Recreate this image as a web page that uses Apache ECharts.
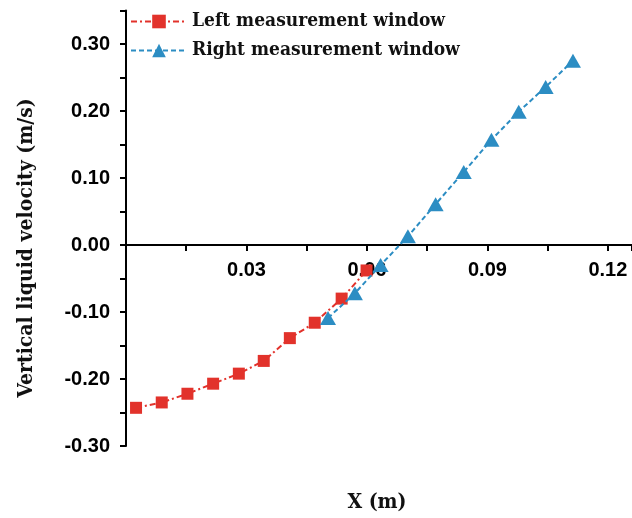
<!DOCTYPE html>
<html>
<head>
<meta charset="utf-8">
<script src="https://cdn.jsdelivr.net/npm/echarts@6/dist/echarts.min.js"></script>
<style>
html,body{margin:0;padding:0;background:#fff;}
#chart{width:632px;height:518px;}
</style>
</head>
<body>
<div id="chart"></div>
<script>
// Data
const seriesNames = ['Left measurement window', 'Right measurement window'];
const leftX = [0.0025, 0.0089, 0.0153, 0.0217, 0.0281, 0.0343, 0.0408, 0.0470, 0.0537, 0.0599];
const leftY = [-0.243, -0.235, -0.222, -0.207, -0.192, -0.173, -0.139, -0.116, -0.080, -0.038];
const rightX = [0.0503, 0.0570, 0.0634, 0.0702, 0.0771, 0.0841, 0.0910, 0.0978, 0.1045, 0.1113];
const rightY = [-0.109, -0.072, -0.030, 0.013, 0.061, 0.109, 0.157, 0.199, 0.236, 0.275];
const xTickLabels = ['0.03', '0.06', '0.09', '0.12'];
const yTickLabels = ['-0.30', '-0.20', '-0.10', '0.00', '0.10', '0.20', '0.30'];
const xTitle = 'X (m)';
const yTitle = 'Vertical liquid velocity (m/s)';

const RED = '#E2322B';
const BLUE = '#2C8DC3';
const serifFont = '"DejaVu Serif Condensed", "DejaVu Serif", serif';
const tickFont = '"Liberation Sans", Arial, sans-serif';

const chart = echarts.init(document.getElementById('chart'), null, {renderer: 'canvas'});

const pairs = (xs, ys) => xs.map((x, i) => [x, ys[i]]);

const gridTop = 10.5, gridBottomPx = 446;
const yMin = -0.30, yMax = 0.35;
const zeroOffset = -(gridBottomPx - gridTop) * (0 - yMin) / (yMax - yMin);

chart.setOption({
  animation: false,
  backgroundColor: '#fff',
  grid: {left: 126, right: 0, top: gridTop, bottom: 518 - gridBottomPx, containLabel: false},
  legend: {
    orient: 'vertical',
    left: 125,
    top: 7,
    itemWidth: 56,
    itemHeight: 17,
    itemGap: 10,
    textStyle: {fontFamily: serifFont, fontWeight: 'bold', fontSize: 19, color: '#111'},
    data: seriesNames
  },
  xAxis: {
    type: 'value',
    min: 0, max: 0.126, interval: 0.03,
    offset: zeroOffset,
    axisLine: {onZero: false, lineStyle: {color: '#000', width: 2}},
    axisTick: {show: true, inside: false, length: 6, lineStyle: {color: '#000', width: 2}},
    minorTick: {show: true, splitNumber: 2, length: 6, lineStyle: {color: '#000', width: 2}},
    splitLine: {show: false},
    axisLabel: {
      margin: 15,
      showMinLabel: false, showMaxLabel: false,
      fontFamily: tickFont, fontWeight: 'bold', fontSize: 20, color: '#000',
      formatter: v => { const s = v.toFixed(2); return xTickLabels.indexOf(s) >= 0 ? s : ''; }
    }
  },
  yAxis: {
    type: 'value',
    min: yMin, max: yMax, interval: 0.1,
    axisLine: {lineStyle: {color: '#000', width: 2}},
    axisTick: {show: true, length: 6, lineStyle: {color: '#000', width: 2}},
    minorTick: {show: true, splitNumber: 2, length: 6, lineStyle: {color: '#000', width: 2}},
    splitLine: {show: false},
    axisLabel: {
      margin: 16,
      showMaxLabel: false,
      fontFamily: tickFont, fontWeight: 'bold', fontSize: 20, color: '#000',
      formatter: v => { const s = v.toFixed(2); return yTickLabels.indexOf(s) >= 0 ? s : ''; }
    }
  },
  graphic: [
    {type: 'text', x: 377, y: 503, style: {text: xTitle, font: 'bold 21px ' + serifFont, fill: '#111', align: 'center', verticalAlign: 'middle'}},
    {type: 'text', x: 27, y: 248, rotation: Math.PI/2, style: {text: yTitle, font: 'bold 21px ' + serifFont, fill: '#111', align: 'center', verticalAlign: 'middle'}}
  ],
  series: [
    {
      name: seriesNames[0], type: 'line',
      data: pairs(leftX, leftY),
      symbol: 'rect', symbolSize: 12,
      itemStyle: {color: RED},
      lineStyle: {color: RED, width: 2, type: [6, 3, 2, 3]},
      z: 2
    },
    {
      name: seriesNames[1], type: 'line',
      data: pairs(rightX, rightY),
      symbol: 'triangle', symbolSize: [16, 14],
      itemStyle: {color: BLUE},
      lineStyle: {color: BLUE, width: 2, type: [5, 3]},
      z: 3
    }
  ]
});
</script>
</body>
</html>
